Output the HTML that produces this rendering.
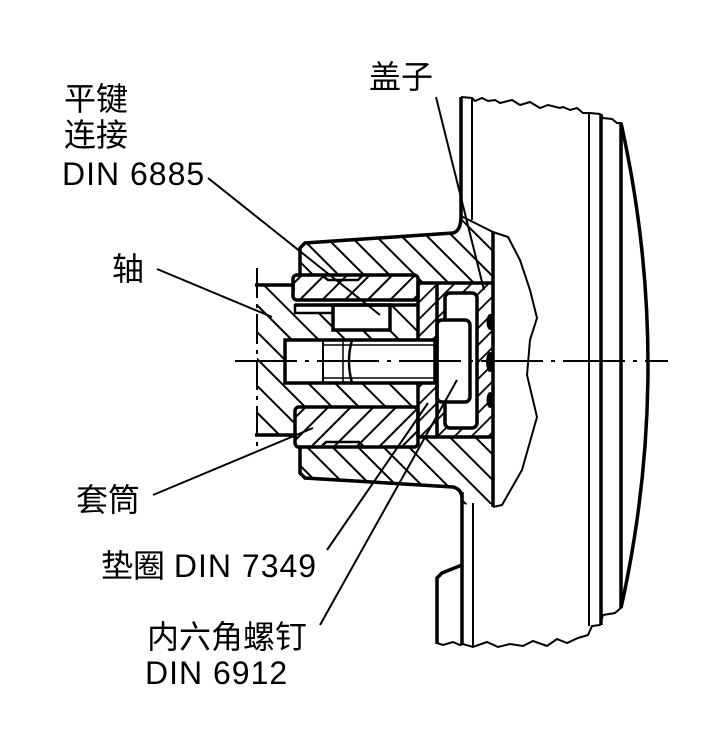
<!DOCTYPE html>
<html><head><meta charset="utf-8"><style>
html,body{margin:0;padding:0;background:#fff;}
svg{display:block;}
text{font-family:"Liberation Sans","Noto Sans CJK SC",sans-serif;font-size:32px;fill:#000;}
</style></head><body>
<svg width="702" height="750" viewBox="0 0 702 750" xmlns="http://www.w3.org/2000/svg">
<defs>
 <pattern id="h1" patternUnits="userSpaceOnUse" width="18" height="18" patternTransform="rotate(-45)"><line x1="9" y1="-1" x2="9" y2="19" stroke="#000" stroke-width="2"/></pattern>
 <pattern id="h1b" patternUnits="userSpaceOnUse" width="19" height="19" patternTransform="rotate(-45)"><line x1="4" y1="-1" x2="4" y2="20" stroke="#000" stroke-width="2"/></pattern>
 <pattern id="h2" patternUnits="userSpaceOnUse" width="16" height="16" patternTransform="rotate(45)"><line x1="8" y1="-1" x2="8" y2="17" stroke="#000" stroke-width="2"/></pattern>
 <pattern id="h3" patternUnits="userSpaceOnUse" width="12" height="12" patternTransform="rotate(45)"><line x1="6" y1="-1" x2="6" y2="13" stroke="#000" stroke-width="1.8"/></pattern>
</defs>
<rect width="702" height="750" fill="#fff"/>

<!-- hatched regions -->
<path d="M300,275 L300,248 L305,243 L453,233 Q461,231 461,216 L493,232 L493,283 L418,283 L418,275 Z" fill="url(#h1)"/>
<path d="M300,447 L300,473 L305,478 L453,487 Q461,489 462,497 L462,505 L475,503 L487,503 L493,505 L493,437 L418,437 L418,447 Z" fill="url(#h1)"/>
<path d="M257,285 L295,285 L295,305 L418,305 L418,407 L295,407 L295,435 L257,435 Z" fill="url(#h1b)"/>
<rect x="293" y="275" width="125" height="25" rx="4" fill="url(#h2)" stroke="#000" stroke-width="3.5"/>
<rect x="295" y="407" width="123" height="40" rx="4" fill="url(#h2)" stroke="#000" stroke-width="3.5"/>
<path d="M418,283 H437 V340 H418 Z M418,383 H437 V437 H418 Z" fill="url(#h3)"/>
<path d="M437,283 H493 V437 H437 Z M445,293 H477 V428 H445 Z" fill="url(#h3)" fill-rule="evenodd"/>

<!-- notches on key pieces -->
<path d="M323,276 L328,280 L358,280 L362,276" fill="none" stroke="#000" stroke-width="2.5"/>
<path d="M322,446 L326,442 L359,442 L363,446" fill="none" stroke="#000" stroke-width="2.5"/>

<!-- white parts -->
<rect x="295" y="305" width="38" height="8" fill="#fff" stroke="#000" stroke-width="2.5"/>
<rect x="333" y="305" width="57" height="25" fill="#fff" stroke="#000" stroke-width="3.5"/>
<rect x="285" y="340" width="150" height="43" fill="#fff" stroke="#000" stroke-width="3.5"/>
<line x1="323" y1="345" x2="435" y2="345" stroke="#000" stroke-width="1.5"/>
<line x1="323" y1="378" x2="435" y2="378" stroke="#000" stroke-width="1.5"/>
<line x1="323" y1="340" x2="323" y2="383" stroke="#000" stroke-width="2"/>
<line x1="343" y1="340" x2="343" y2="383" stroke="#000" stroke-width="1.5"/>
<path d="M352,340 Q346,361 352,383" fill="none" stroke="#000" stroke-width="2.5"/>
<rect x="445" y="293" width="32" height="135" rx="5" fill="#fff" stroke="#000" stroke-width="3.5"/>
<rect x="437" y="320" width="33" height="82" rx="5" fill="#fff" stroke="#000" stroke-width="3.5"/>

<!-- thick internal lines -->
<g stroke="#000" stroke-width="3.5" fill="none">
 <line x1="295" y1="305" x2="418" y2="305"/>
 <line x1="255" y1="285" x2="295" y2="285"/>
 <line x1="255" y1="435" x2="297" y2="435"/>
 <line x1="418" y1="283" x2="418" y2="340"/>
 <line x1="418" y1="383" x2="418" y2="437"/>
 <line x1="437" y1="283" x2="437" y2="437"/>
 <line x1="418" y1="283" x2="493" y2="283"/>
 <line x1="418" y1="437" x2="493" y2="437"/>
 <!-- hub / housing outline -->
 <path d="M461,97 L461,216 Q461,231 453,233 L305,243 L300,248 L300,275"/>
 <path d="M300,447 L300,473 L305,478 L453,487 Q461,489 462,497"/>
 <path d="M462,492 L462,565 L442,573 L437,578 L437,644"/>
 <line x1="462" y1="565" x2="462" y2="645"/>
 <line x1="493" y1="232" x2="493" y2="507"/>
 <line x1="601" y1="114" x2="601" y2="625"/>
 <line x1="621" y1="123" x2="621" y2="608"/>
 <path d="M621,123 Q675,365 621,608"/>
</g>
<ellipse cx="490" cy="322" rx="3.5" ry="8" fill="#000"/>
<ellipse cx="490" cy="362" rx="4" ry="10" fill="#000"/>
<ellipse cx="490" cy="400" rx="3.5" ry="8" fill="#000"/>

<!-- thin lines -->
<g stroke="#000" stroke-width="2" fill="none">
 <line x1="472" y1="98" x2="472" y2="220"/>
 <line x1="461" y1="216" x2="493" y2="232"/>
 <line x1="473" y1="503" x2="473" y2="646"/>
 <line x1="589" y1="113" x2="589" y2="626"/>
 <path d="M461,97 L472,98 L475,101 L482,98 L488,101 L495,100 L500,103 L512,100 L520,105 L530,102 L540,108 L548,105 L560,108 L563,107 L570,110 L577,108 L583,113 L590,113 L600,114 L603,118 L612,119 L617,123 L622,123"/>
 <path d="M437,643 L443,645 L453,642 L460,645 L463,644 L473,647 L487,642 L498,647 L510,644 L523,646 L533,641 L547,646 L557,639 L567,643 L578,638 L588,635 L592,626 L600,625 L603,615 L615,613 L622,607"/>
 <path d="M493,232 L508,237 L520,260 L530,290 L537,318 L530,340 L527,375 L537,417 L522,470 L502,505 L493,507"/>
 <!-- leaders -->
 <line x1="208" y1="178" x2="380" y2="315"/>
 <line x1="157" y1="269" x2="272" y2="317"/>
 <line x1="153" y1="495" x2="313" y2="428"/>
 <line x1="327" y1="550" x2="428" y2="403"/>
 <line x1="320" y1="625" x2="457" y2="380"/>
 <line x1="436" y1="97" x2="484" y2="290"/>
</g>

<!-- center lines -->
<line x1="235" y1="361" x2="668" y2="361" stroke="#000" stroke-width="2" stroke-dasharray="62 8 4 8"/>
<line x1="257" y1="268" x2="257" y2="448" stroke="#000" stroke-width="2" stroke-dasharray="30 6 4 6"/>

<!-- labels -->
<text x="64" y="110">平键</text>
<text x="64" y="146">连接</text>
<text x="62" y="185" letter-spacing="1">DIN 6885</text>
<text x="112" y="280">轴</text>
<text x="369" y="88">盖子</text>
<text x="76" y="511">套筒</text>
<text x="101" y="577">垫圈 <tspan letter-spacing="1">DIN 7349</tspan></text>
<text x="147" y="648">内六角螺钉</text>
<text x="145" y="684" letter-spacing="1">DIN 6912</text>
</svg>
</body></html>
